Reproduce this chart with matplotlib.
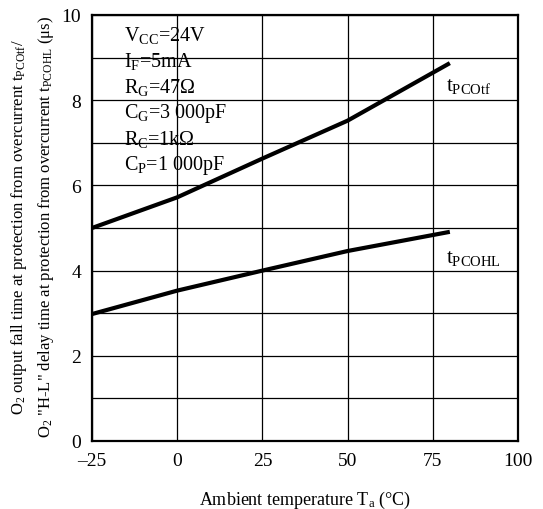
import numpy as np
import matplotlib
matplotlib.use("Agg")
import matplotlib.pyplot as plt

plt.rcParams['font.family'] = ['Liberation Serif', 'DejaVu Serif']
plt.rcParams['mathtext.fontset'] = 'custom'
plt.rcParams['mathtext.rm'] = 'Liberation Serif'
plt.rcParams['mathtext.it'] = 'Liberation Serif:italic'

# data
ta = [-25, 0, 25, 50, 80]
t_pcotf = [5.0, 5.72, 6.63, 7.52, 8.87]
t_pcohl = [2.98, 3.53, 4.0, 4.46, 4.91]

conditions = [r'V$_{\rm CC}$=24V', r'I$_{\rm F}$=5mA', r'R$_{\rm G}$=47Ω',
              r'C$_{\rm G}$=3 000pF', r'R$_{\rm C}$=1kΩ', r'C$_{\rm P}$=1 000pF']

fig = plt.figure(figsize=(5.43, 5.10), dpi=100)
ax = fig.add_axes([92/543, 1 - 442/510, 426/543, 426/510])

ax.plot(ta, t_pcotf, color='black', lw=3, solid_capstyle='butt')
ax.plot(ta, t_pcohl, color='black', lw=3, solid_capstyle='butt')

ax.set_xlim(-25, 100)
ax.set_ylim(0, 10)
ax.set_xticks([-25, 0, 25, 50, 75, 100])
ax.set_xticklabels(['–25', '0', '25', '50', '75', '100'])
ax.set_yticks([0, 2, 4, 6, 8, 10])
ax.set_yticks(np.arange(0, 11, 1), minor=True)
ax.grid(True, which='both', color='black', lw=0.9)
ax.tick_params(which='both', length=0, labelsize=14, pad=8)
for s in ax.spines.values():
    s.set_linewidth(1.6)

for i, c in enumerate(conditions):
    ax.text(-15.5, 9.55 - i * 0.61, c, fontsize=14.5, va='center', ha='left')

ax.text(79, 8.35, r't$_{\rm PCOtf}$', fontsize=15, va='center', ha='left')
ax.text(79, 4.3, r't$_{\rm PCOHL}$', fontsize=15, va='center', ha='left')

ax.set_xlabel(r'Ambient temperature T$_{\rm a}$ (°C)', fontsize=13, labelpad=14)
ax.set_ylabel('O$_2$ output fall time at protection from overcurrent t$_{\\rm PCOtf}$/\n'
              'O$_2$ "H-L" delay time at protection from overcurrent t$_{\\rm PCOHL}$ (μs)',
              fontsize=12.0, linespacing=1.5)
ax.yaxis.set_label_coords(-0.084, 0.505)

fig.savefig('out.png', dpi=100)
